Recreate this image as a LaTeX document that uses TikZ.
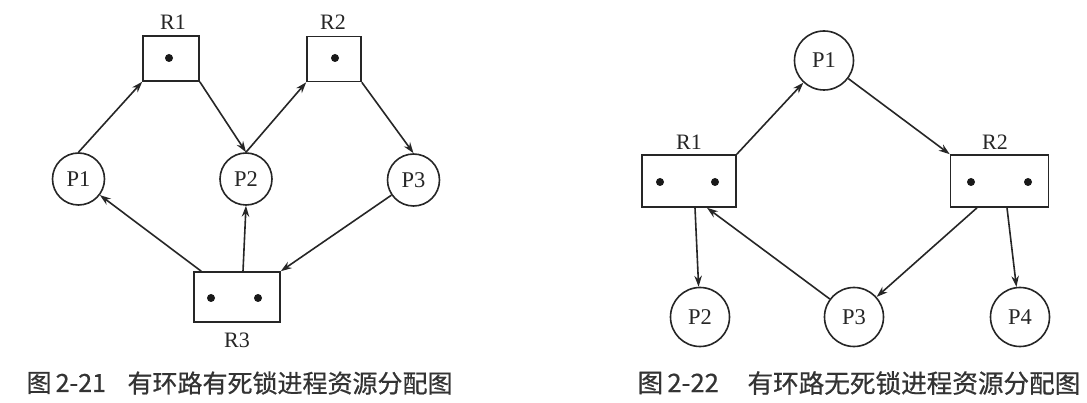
\documentclass[tikz,border=0pt]{standalone}
\usepackage{fontspec}
\setmainfont{Liberation Serif}
\newfontfamily\cjk[FakeBold=0.6]{Noto Sans CJK SC}
\usetikzlibrary{arrows.meta,calc}
\begin{document}
\begin{tikzpicture}[x=1pt,y=-1pt,
  ink/.style={draw=black!85, line width=1.6pt},
  proc/.style={ink, circle, inner sep=0pt, font=\fontsize{22.5}{24}\selectfont, text=black!85},
  procL/.style={proc, minimum size=52pt},
  procR/.style={proc, minimum size=59pt},
  res/.style={ink, rectangle, inner sep=0pt},
  tok/.style={circle, fill=black!90, inner sep=0pt, minimum size=8pt},
  lab/.style={font=\fontsize{22}{24}\selectfont, text=black!85},
  figcaption/.style={font=\cjk\fontsize{25}{27}\selectfont, text=black!80, anchor=west},
  figcaptionR/.style={figcaption, font=\cjk\fontsize{25.6}{27}\selectfont},
  edge/.style={ink, -{Stealth[length=11pt,width=7.5pt]}}
]
\useasboundingbox[fill=white] (0,0) rectangle (1087,403);

% ---------- left diagram ----------
\node[res, minimum width=56pt, minimum height=45pt] (lR1) at (171,58.5) {};
\node[res, minimum width=54pt, minimum height=45pt] (lR2) at (334,59) {};
\node[res, minimum width=86pt, minimum height=50pt] (lR3) at (237,297) {};
\node[tok] (lR1a) at (169,58) {};
\node[tok] (lR2a) at (335,58) {};
\node[tok] (lR3a) at (211,298) {};
\node[tok] (lR3b) at (258,298) {};
\node[lab] (lR1l) at (173,22) {R1};
\node[lab] (lR2l) at (333,22) {R2};
\node[lab] (lR3l) at (237,340) {R3};
\node[procL] (lP1) at (78.5,179) {P1};
\node[procL] (lP2) at (246,179) {P2};
\node[procL] (lP3) at (413.5,180) {P3};

\coordinate (lR3o1) at ($(lR3.north west)+(8,0)$);
\coordinate (lR3o2) at ($(lR3.north)+(6,0)$);

\draw[edge] (lP1.north) -- (lR1.south west);
\draw[edge] (lR1.south east) -- (lP2.north);
\draw[edge] (lP2.north) -- (lR2.south west);
\draw[edge] (lR2.south east) -- (lP3.north);
\draw[edge] (lR3o1) -- (lP1);
\draw[edge] (lR3o2) -- (lP2.south);
\draw[edge] (lP3) -- (lR3.north east);

\node[figcaption] (capL) at (23,383) {图\,2-21};
\node[figcaption] (capLt) at (124,383) {有环路有死锁进程资源分配图};

% ---------- right diagram ----------
\node[res, minimum width=94pt, minimum height=52pt] (rR1) at (689,181) {};
\node[res, minimum width=98pt, minimum height=52pt] (rR2) at (999.5,181) {};
\node[tok] (rR1a) at (660,182) {};
\node[tok] (rR1b) at (715,182) {};
\node[tok] (rR2a) at (971,182) {};
\node[tok] (rR2b) at (1028,182) {};
\node[lab] (rR1l) at (689,142) {R1};
\node[lab] (rR2l) at (995,142) {R2};
\node[procR] (rP1) at (824,60.5) {P1};
\node[procR] (rP2) at (700,317) {P2};
\node[procR] (rP3) at (854,317) {P3};
\node[procR] (rP4) at (1020,317) {P4};

\coordinate (rR1in) at ($(rR1.south)+(18,0)$);
\coordinate (rR1out) at ($(rR1.south)+(6,0)$);
\coordinate (rR2o3) at ($(rR2.south)+(-22.5,0)$);
\coordinate (rR2o4) at ($(rR2.south)+(7.5,0)$);

\draw[edge] (rR1.north east) -- (rP1);
\draw[edge] (rP1) -- (rR2.north west);
\draw[edge] (rR1out) -- (rP2);
\draw[edge] (rP3) -- (rR1in);
\draw[edge] (rR2o3) -- (rP3);
\draw[edge] (rR2o4) -- (rP4);

\node[figcaptionR] (capR) at (634,383) {图\,2-22};
\node[figcaptionR] (capRt) at (744,383) {有环路无死锁进程资源分配图};
\end{tikzpicture}
\end{document}
